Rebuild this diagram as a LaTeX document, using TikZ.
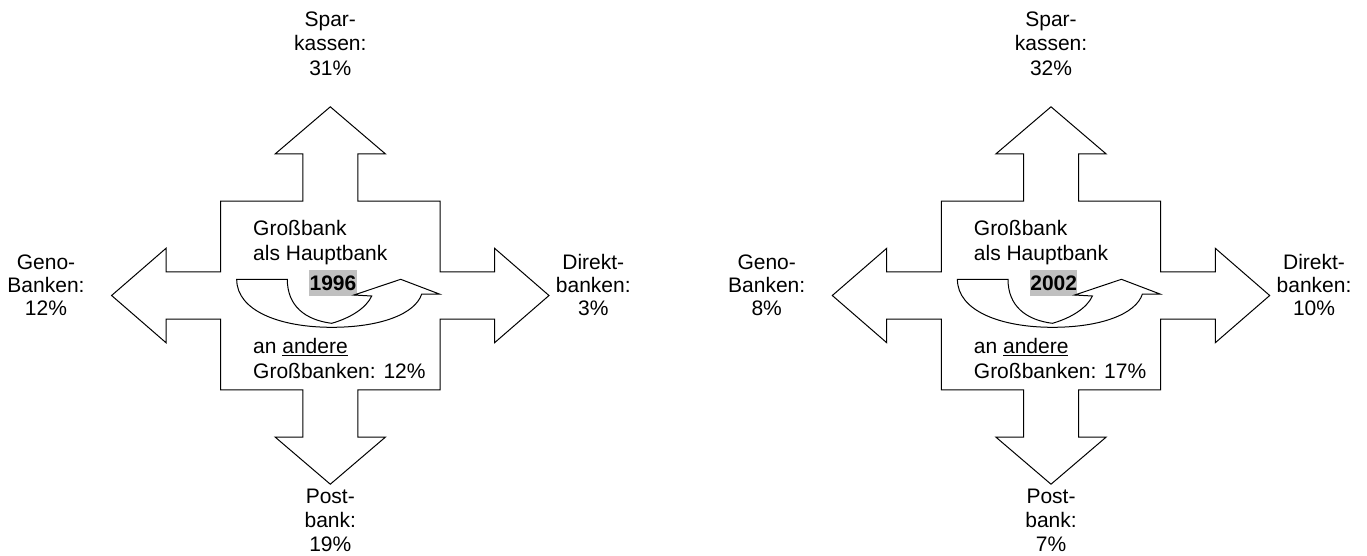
\documentclass[tikz,border=0pt]{standalone}
\usepackage{fontspec}
\setmainfont{Liberation Sans}
\usepackage{tikz}
\definecolor{yeargray}{RGB}{192,192,192}
\usetikzlibrary{calc}

\begin{document}
\begin{tikzpicture}[x=1pt, y=-1pt,
	shapeline/.style={draw=black, line width=1pt, line join=miter},
	share/.style={align=center, anchor=base, inner sep=0pt, font=\fontsize{21}{24.2}\selectfont},
	innertext/.style={align=left, anchor=base west, inner sep=0pt, font=\fontsize{21}{24.8}\selectfont},
	yearbox/.style={fill=yeargray, anchor=base, inner xsep=0.3pt, inner ysep=0pt, text height=20.7pt, text depth=5pt, font=\fontsize{21}{24.8}\selectfont\bfseries}]
			\useasboundingbox (0,0) rectangle (1367,555);
			% Box and arms
			\pgfmathsetmacro{\boxw}{109.7}
			\pgfmathsetmacro{\boxh}{94.3}
			\pgfmathsetmacro{\vshaft}{27.5}
			\pgfmathsetmacro{\vhead}{55}
			\pgfmathsetmacro{\vbase}{141.7}
			\pgfmathsetmacro{\vtip}{188.7}
			\pgfmathsetmacro{\hshaft}{23.7}
			\pgfmathsetmacro{\hhead}{47.2}
			\pgfmathsetmacro{\hbase}{164.3}
			\pgfmathsetmacro{\htip}{218.7}
			
			\foreach \cx/\yr/\spk/\geno/\dir/\post/\gross in {330.3/1996/31/12/3/19/12, 1051/2002/32/8/10/7/17}
			{
				\begin{scope}[shift={(\cx,295.5)}]
					% Cross
					\draw[shapeline] (0,-\vtip) -- (\vhead,-\vbase) -- (\vshaft,-\vbase) -- (\vshaft,-\boxh) -- (\boxw,-\boxh)
						-- (\boxw,-\hshaft) -- (\hbase,-\hshaft) -- (\hbase,-\hhead) -- (\htip,0) -- (\hbase,\hhead) -- (\hbase,\hshaft) -- (\boxw,\hshaft)
						-- (\boxw,\boxh) -- (\vshaft,\boxh) -- (\vshaft,\vbase) -- (\vhead,\vbase) -- (0,\vtip) -- (-\vhead,\vbase) -- (-\vshaft,\vbase) -- (-\vshaft,\boxh)
						-- (-\boxw,\boxh) -- (-\boxw,\hshaft) -- (-\hbase,\hshaft) -- (-\hbase,\hhead) -- (-\htip,0) -- (-\hbase,-\hhead) -- (-\hbase,-\hshaft) -- (-\boxw,-\hshaft)
						-- (-\boxw,-\boxh) -- (-\vshaft,-\boxh) -- (-\vshaft,-\vbase) -- (-\vhead,-\vbase) -- cycle;
					
					\node[yearbox] (year\yr) at (2.7,-4.8) {\yr};
					
					% Curved arrow
					\draw[shapeline] (-93.6,-16.2) -- (-43,-16.2)
						.. controls (-43,10.5) and (-25,24.5) .. (1.4,27.8)
						.. controls (20,22.5) and (36,12.5) .. (41.4,0.5)
						-- (23.7,-0.5) -- (70.4,-16.2) -- (109,-1.5) -- (91.4,-1.5)
						.. controls (85,18.5) and (50,31.8) .. (1.4,31.8)
						.. controls (-50,31.8) and (-93.6,15.5) .. cycle;
					
					% Labels (base = last line)
					\node[innertext] (haupt\yr) at (-77.3,-35.2) {Großbank\\als Hauptbank};
					\node[innertext] (andere\yr) at (-77.3,83.2) {an \underline{andere}\\Großbanken: \gross\%};
					\node[share] (spk\yr) at (0,-220.5) {Spar-\\kassen:\\\spk\%};
					\node[share] (post\yr) at (0,256.2) {Post-\\bank:\\\post\%};
					\node[share, font=\fontsize{21}{23.2}\selectfont] (geno\yr) at (-284.3,20) {Geno-\\Banken:\\\geno\%};
					\node[share, font=\fontsize{21}{23.2}\selectfont] (dir\yr) at (263,20) {Direkt-\\banken:\\\dir\%};
				\end{scope}
			}
			
		\end{tikzpicture}
\end{document}
